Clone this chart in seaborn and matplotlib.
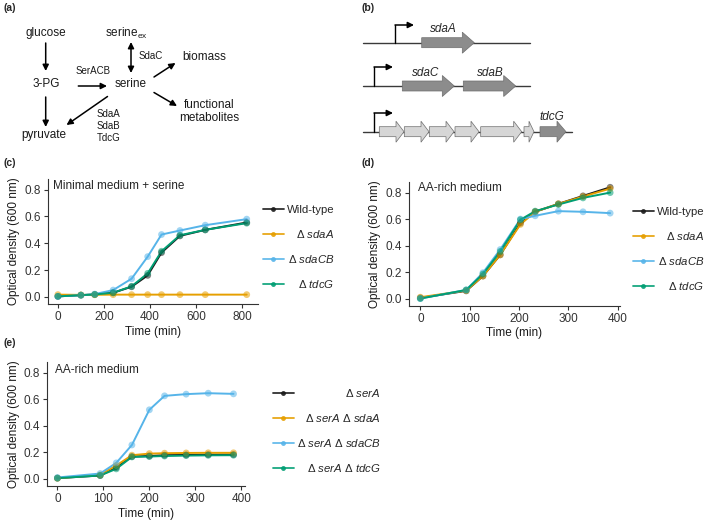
import numpy as np
import pandas as pd
import seaborn as sns
import matplotlib
matplotlib.use("Agg")
from matplotlib import pyplot as plt
from matplotlib.lines import Line2D
from matplotlib.patches import FancyArrow

# growth data (OD600)
c_time = [0, 100, 160, 240, 320, 390, 450, 530, 640, 820]
c_wt = [0.003, 0.012, 0.017, 0.030, 0.075, 0.160, 0.330, 0.455, 0.500, 0.555]
c_sdaA = [0.016, 0.014, 0.015, 0.016, 0.016, 0.016, 0.016, 0.016, 0.016, 0.016]
c_sdaCB = [0.003, 0.012, 0.020, 0.050, 0.135, 0.300, 0.465, 0.495, 0.535, 0.580]
c_tdcG = [0.003, 0.012, 0.017, 0.030, 0.078, 0.175, 0.340, 0.460, 0.500, 0.550]

d_time = [0, 93, 127, 162, 203, 233, 280, 330, 385]
d_wt = [0.005, 0.058, 0.170, 0.330, 0.570, 0.655, 0.715, 0.775, 0.840]
d_sdaA = [0.010, 0.060, 0.170, 0.330, 0.560, 0.655, 0.715, 0.770, 0.830]
d_sdaCB = [0.000, 0.065, 0.195, 0.370, 0.600, 0.625, 0.660, 0.655, 0.645]
d_tdcG = [0.000, 0.065, 0.185, 0.355, 0.595, 0.660, 0.710, 0.760, 0.800]

e_time = [0, 93, 128, 162, 200, 233, 280, 328, 383]
e_serA = [0.005, 0.025, 0.085, 0.168, 0.172, 0.178, 0.180, 0.182, 0.183]
e_serA_sdaA = [0.005, 0.030, 0.100, 0.178, 0.190, 0.193, 0.195, 0.196, 0.196]
e_serA_sdaCB = [0.010, 0.040, 0.120, 0.255, 0.520, 0.625, 0.638, 0.645, 0.640]
e_serA_tdcG = [0.005, 0.025, 0.075, 0.165, 0.168, 0.172, 0.175, 0.177, 0.178]

cd_labels = ["Wild-type", r"Δ $\mathit{sdaA}$", r"Δ $\mathit{sdaCB}$", r"Δ $\mathit{tdcG}$"]
e_labels = [r"Δ $\mathit{serA}$", r"Δ $\mathit{serA}$ Δ $\mathit{sdaA}$",
            r"Δ $\mathit{serA}$ Δ $\mathit{sdaCB}$", r"Δ $\mathit{serA}$ Δ $\mathit{tdcG}$"]
y_ticks = [0.0, 0.2, 0.4, 0.6, 0.8]

colours = ["#1a1a1a", "#E69F00", "#56B4E9", "#009E73"]

sns.set_style("ticks")
plt.rcParams["font.family"] = ["Liberation Sans", "DejaVu Sans"]
plt.rcParams["mathtext.fontset"] = "custom"
plt.rcParams["mathtext.rm"] = "Liberation Sans"
plt.rcParams["mathtext.it"] = "Liberation Sans:italic"
plt.rcParams["mathtext.bf"] = "Liberation Sans:bold"

W, H = 709, 522
fig = plt.figure(figsize=(W / 100, H / 100), dpi=100)
FS = 8.5


def px_axes(left, top, right, bottom, **kw):
    return fig.add_axes([left / W, 1 - bottom / H, (right - left) / W, (bottom - top) / H], **kw)


# ---- schematic layer, pixel coordinates ----
ax0 = px_axes(0, 0, W, H)
ax0.set_xlim(0, W)
ax0.set_ylim(H, 0)
ax0.axis("off")

for lab, x, y in [("(a)", 3, 8), ("(b)", 362, 8), ("(c)", 3, 163), ("(d)", 362, 163), ("(e)", 3, 343)]:
    ax0.text(x, y, lab, fontsize=7.5, fontweight="bold", va="center", ha="left")


def arrow(x0, y0, x1, y1, style="-|>"):
    ax0.annotate("", xy=(x1, y1), xytext=(x0, y0),
                 arrowprops=dict(arrowstyle=style, color="black", lw=1.1,
                                 mutation_scale=9, shrinkA=0, shrinkB=0))


# (a) pathway
tk = dict(fontsize=FS, ha="center", va="center", color="#1a1a1a")
ax0.text(45.7, 33, "glucose", **tk)
ax0.text(46.7, 84, "3-PG", **tk)
ax0.text(43.3, 135, "pyruvate", **tk)
ax0.text(130.7, 84, "serine", **tk)
ax0.text(126.7, 33, r"serine$_\mathregular{ex}$", **tk)
ax0.text(204, 57.5, "biomass", **tk)
ax0.text(209.5, 111.5, "functional\nmetabolites", linespacing=1.1, **tk)
ek = dict(fontsize=7, ha="center", va="center", color="#1a1a1a")
ax0.text(92.7, 70.7, "SerACB", **ek)
ax0.text(151, 56, "SdaC", **ek)
ax0.text(108.3, 126, "SdaA\nSdaB\nTdcG", linespacing=1.25, **ek)

arrow(45.7, 43, 45.7, 71)
arrow(45.7, 97, 45.7, 127)
arrow(78.3, 86, 107, 86)
arrow(131, 42, 131, 73, style="<|-|>")
arrow(154, 77, 175.5, 63)
arrow(154, 92.5, 177, 106)
arrow(107.5, 96.5, 66.5, 125)

# (b) operons
def promoter(x, y, top):
    ax0.plot([x, x], [y, top], color="black", lw=1.0)
    arrow(x, top, x + 19, top)


def gene(x0, x1, y, fc, hl=12):
    ax0.add_patch(FancyArrow(x0, y, x1 - x0, 0, width=10, head_width=21, head_length=hl,
                             length_includes_head=True, fc=fc, ec="#6e6e6e", lw=0.5))


line_kw = dict(color="#3a3a3a", lw=1.0, zorder=0)
ax0.plot([363, 530], [42.7, 42.7], **line_kw)
promoter(395, 42.7, 25)
gene(421.7, 474.3, 42.7, "#8c8c8c")
ax0.text(443.3, 29.5, "sdaA", style="italic", fontsize=FS, ha="center", va="center")

ax0.plot([363, 530], [86, 86], **line_kw)
promoter(374, 86, 67)
gene(402.3, 454.3, 86, "#8c8c8c")
gene(463.3, 515.7, 86, "#8c8c8c")
ax0.text(425.7, 72.7, "sdaC", style="italic", fontsize=FS, ha="center", va="center")
ax0.text(490, 72.7, "sdaB", style="italic", fontsize=FS, ha="center", va="center")

ax0.plot([363, 571.7], [131.7, 131.7], **line_kw)
promoter(374, 131.7, 113)
for a, b in [(379.3, 404), (404.3, 429), (429.3, 454), (455, 479), (480.7, 521.7)]:
    gene(a, b, 131.7, "#d6d6d6", hl=8)
gene(524, 534, 131.7, "#d6d6d6", hl=5)
gene(540, 566, 131.7, "#8c8c8c", hl=9)
ax0.text(551.7, 116.7, "tdcG", style="italic", fontsize=FS, ha="center", va="center")


# ---- growth curves ----
def growth_panel(box, time, series, xlim, xticks, medium, text_pos):
    ax = px_axes(*box)
    keys = ["s0", "s1", "s2", "s3"]
    df = pd.concat([pd.DataFrame({"time": time, "od": v, "strain": k})
                    for k, v in zip(keys, series)], ignore_index=True)
    pal = dict(zip(keys, colours))
    sns.lineplot(data=df, x="time", y="od", hue="strain", hue_order=keys, palette=pal,
                 lw=1.4, legend=False, ax=ax)
    sns.scatterplot(data=df, x="time", y="od", hue="strain", hue_order=keys, palette=pal,
                    s=24, alpha=0.55, linewidth=0, legend=False, ax=ax, zorder=3)
    ax.set_xlim(xlim)
    ax.set_ylim(-0.054, 0.88)
    ax.set_xticks(xticks)
    ax.set_yticks(y_ticks)
    ax.set_yticklabels([f"{v:.1f}" for v in y_ticks])
    ax.set_xlabel("Time (min)", fontsize=FS, labelpad=2, color="#1a1a1a")
    ax.set_ylabel("Optical density (600 nm)", fontsize=FS, labelpad=3, color="#1a1a1a")
    ax.tick_params(labelsize=FS, length=3, width=0.8, pad=2, colors="#333333", labelcolor="#333333")
    for s in ["left", "bottom"]:
        ax.spines[s].set_linewidth(0.8)
        ax.spines[s].set_color("#333333")
    sns.despine(ax=ax)
    ax.patch.set_alpha(0)
    ax.text(*text_pos, medium, transform=ax.transAxes, fontsize=FS, va="center", ha="left")
    return ax


def add_legend(labels, x, y):
    handles = [Line2D([], [], color=c, lw=1.3, marker="o", ms=3.5, markeredgewidth=0, alpha=0.9)
               for c in colours]
    leg = fig.legend(handles, labels, loc="upper left", bbox_to_anchor=(x / W, 1 - y / H),
                     frameon=False, fontsize=8.2, handlelength=1.8, labelspacing=1.13,
                     borderpad=0, borderaxespad=0, handletextpad=0.3, numpoints=1)
    return leg


growth_panel((48, 179, 258, 304), c_time, [c_wt, c_sdaA, c_sdaCB, c_tdcG],
             (-43, 869), [0, 200, 400, 600, 800], "Minimal medium + serine", (0.024, 0.945))
growth_panel((409, 182, 620, 305.7), d_time, [d_wt, d_sdaA, d_sdaCB, d_tdcG],
             (-23, 405), [0, 100, 200, 300, 400], "AA-rich medium", (0.041, 0.95))
growth_panel((47.3, 362, 245, 486), e_time, [e_serA, e_serA_sdaA, e_serA_sdaCB, e_serA_tdcG],
             (-22, 408), [0, 100, 200, 300, 400], "AA-rich medium", (0.039, 0.935))

legs = [add_legend(cd_labels, 263, 205), add_legend(cd_labels, 633, 207),
        add_legend(e_labels, 273, 387)]

# right-align legend labels like the original (shift in pixels inside each text slot)
fig.canvas.draw()
rend = fig.canvas.get_renderer()
for leg in legs:
    texts = leg.get_texts()
    widths = [t.get_window_extent(rend).width for t in texts]
    w = max(widths)
    for t, tw in zip(texts, widths):
        t.set_position((w - tw, 0))

fig.savefig("out.png", dpi=100)
